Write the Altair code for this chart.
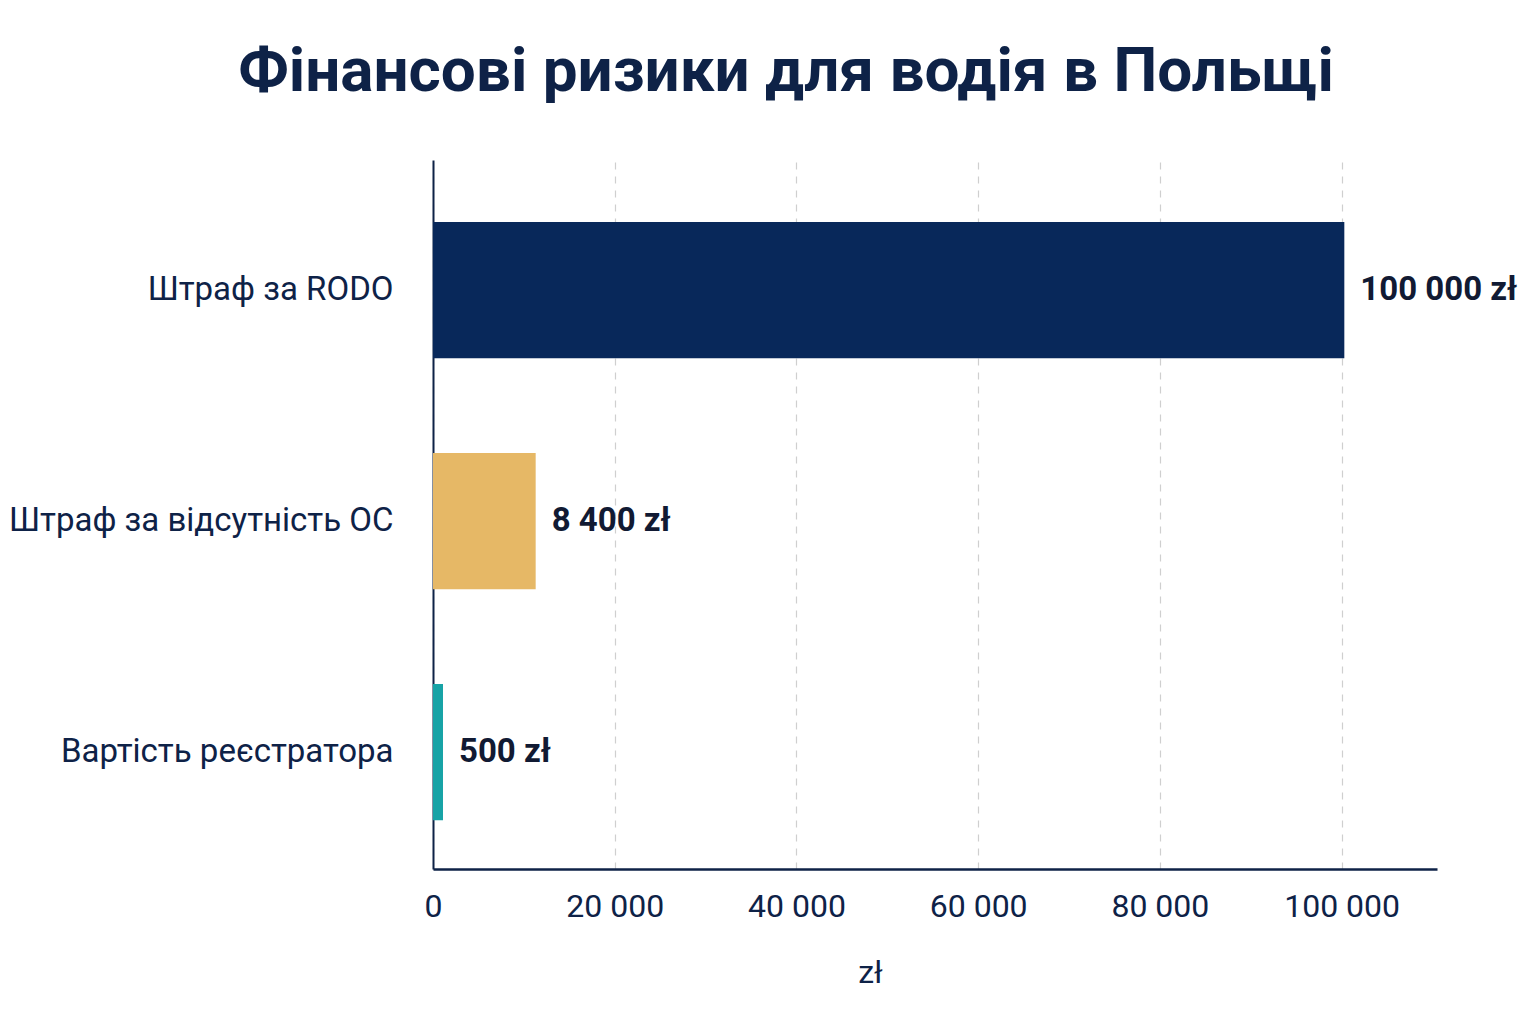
import altair as alt
import pandas as pd

categories = ["Штраф за RODO", "Штраф за відсутність ОС", "Вартість реєстратора"]
bar_values = [100300, 11300, 1100]
value_labels = ["100 000 zł", "8 400 zł", "500 zł"]
bar_colors = ["#08285a", "#e6b866", "#17a3a6"]
x_ticks = [0, 20000, 40000, 60000, 80000, 100000]

df = pd.DataFrame({
    "cat": categories,
    "val": bar_values,
    "lbl": value_labels,
    "col": bar_colors,
})

FONT = "Roboto"
NAVY = "#0e2247"

y_enc = alt.Y(
    "cat:N",
    sort=categories,
    title=None,
    scale=alt.Scale(paddingInner=0.41, paddingOuter=0.24, align=0.56),
    axis=alt.Axis(
        labelFont=FONT, labelFontSize=33, labelColor=NAVY, labelPadding=40,
        ticks=False, domainColor=NAVY, domainWidth=2, labelLimit=500,
    ),
)

x_enc = alt.X(
    "val:Q",
    title="zł",
    scale=alt.Scale(domain=[0, 110500], nice=False),
    axis=alt.Axis(
        values=x_ticks,
        labelExpr="replace(format(datum.value, ','), regexp(',', 'g'), ' ')",
        labelFont=FONT, labelFontSize=32, labelColor=NAVY, labelPadding=22,
        labelFlush=False,
        ticks=False, domainColor=NAVY, domainWidth=2.5,
        grid=True, gridColor="#cfcfcf", gridDash=[7, 7], gridWidth=1.2,
        titleFont=FONT, titleFontSize=32, titleColor=NAVY, titleFontWeight="normal",
        titleX=437, titleY=113, titleBaseline="alphabetic",
    ),
)

bars = alt.Chart(df).mark_bar().encode(
    x=x_enc,
    y=y_enc,
    color=alt.Color("col:N", scale=None),
)

labels = alt.Chart(df).mark_text(
    align="left", baseline="middle", dx=16, font=FONT, fontSize=33,
    fontWeight="bold", color="#111a33",
).encode(
    x="val:Q",
    y=alt.Y("cat:N", sort=categories),
    text="lbl:N",
)

chart = (bars + labels).properties(
    width=1004,
    height=709,
    background="white",
    autosize=alt.AutoSizeParams(type="none"),
    padding={"left": 425, "top": 152, "right": 91, "bottom": 140},
    title=alt.TitleParams(
        "Фінансові ризики для водія в Польщі",
        font=FONT, fontSize=62, fontWeight="bold", color=NAVY,
        anchor="middle", dx=-149, offset=56,
    ),
).configure_view(stroke=None)

chart.save("out.html", embed_options={"renderer": "svg", "actions": False})
